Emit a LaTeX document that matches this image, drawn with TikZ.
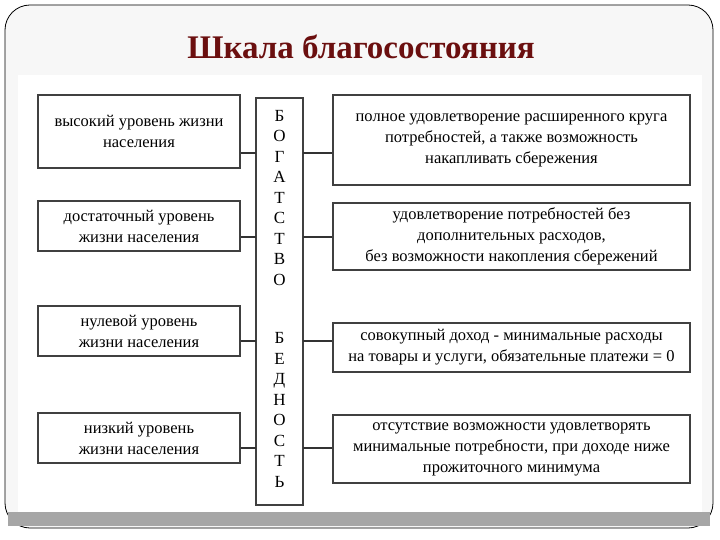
\documentclass[tikz,border=0pt]{standalone}
\usepackage{fontspec}
\setmainfont{Liberation Serif}
\begin{document}
\begin{tikzpicture}[x=1pt,y=-1pt,
  bx/.style={draw=black!75,line width=1.3pt,fill=white,align=center,inner sep=0pt,font=\fontsize{16.5}{21}\selectfont},
  ln/.style={draw=black!80,line width=1.2pt}]
\useasboundingbox (0,0) rectangle (720,540);
\fill[white] (0,0) rectangle (720,540);
\draw[line width=0.8pt,fill=black!3,rounded corners=25pt] (5,5) rectangle (713,528);
\fill[black!35] (8,512) rectangle (710,526);
\fill[white] (18,75) rectangle (702,512);
\node (t) at (361,47) {\fontsize{33}{38}\selectfont\bfseries\color[HTML]{6B0F0F}Шкала благосостояния};
% left
\node[bx,minimum width=202,minimum height=73] (l1) at (139,131.5) {высокий уровень жизни\\населения};
\node[bx,minimum width=202,minimum height=50] (l2) at (139,226) {достаточный уровень\\жизни населения};
\node[bx,minimum width=202,minimum height=50] (l3) at (139,331) {нулевой уровень\\жизни населения};
\node[bx,minimum width=202,minimum height=50] (l4) at (139,438) {низкий уровень\\жизни населения};
% centre
\node[bx,minimum width=47,minimum height=407] (c) at (279.5,301.5) {};
\node[font=\fontsize{17}{20.5}\selectfont,align=center] (cw) at (279.5,198) {Б\\О\\Г\\А\\Т\\С\\Т\\В\\О};
\node[font=\fontsize{17}{20.5}\selectfont,align=center] (cb) at (279.5,410) {Б\\Е\\Д\\Н\\О\\С\\Т\\Ь};
% right
\node[bx,minimum width=357,minimum height=90] (r1) at (511.5,140) {полное удовлетворение расширенного круга\\потребностей, а также возможность\\накапливать сбережения};
\node[bx,minimum width=357,minimum height=67] (r2) at (511.5,236.5) {удовлетворение потребностей без\\дополнительных расходов,\\без возможности накопления сбережений};
\node[bx,minimum width=357,minimum height=49] (r3) at (511.5,347.5) {совокупный доход - минимальные расходы\\на товары и услуги, обязательные платежи = 0};
\node[bx,minimum width=357,minimum height=68] (r4) at (511.5,449) {отсутствие возможности удовлетворять\\минимальные потребности, при доходе ниже\\прожиточного минимума};
% connectors
\coordinate (a1) at (256,153); \coordinate (b1) at (303,153);
\draw[ln] (l1.east|-a1) -- (a1); \draw[ln] (b1) -- (r1.west|-b1);
\coordinate (a2) at (256,237); \coordinate (b2) at (303,237);
\draw[ln] (l2.east|-a2) -- (a2); \draw[ln] (b2) -- (r2.west|-b2);
\coordinate (a3) at (256,341); \coordinate (b3) at (303,341);
\draw[ln] (l3.east|-a3) -- (a3); \draw[ln] (b3) -- (r3.west|-b3);
\coordinate (a4) at (256,448); \coordinate (b4) at (303,448);
\draw[ln] (l4.east|-a4) -- (a4); \draw[ln] (b4) -- (r4.west|-b4);
\end{tikzpicture}
\end{document}
